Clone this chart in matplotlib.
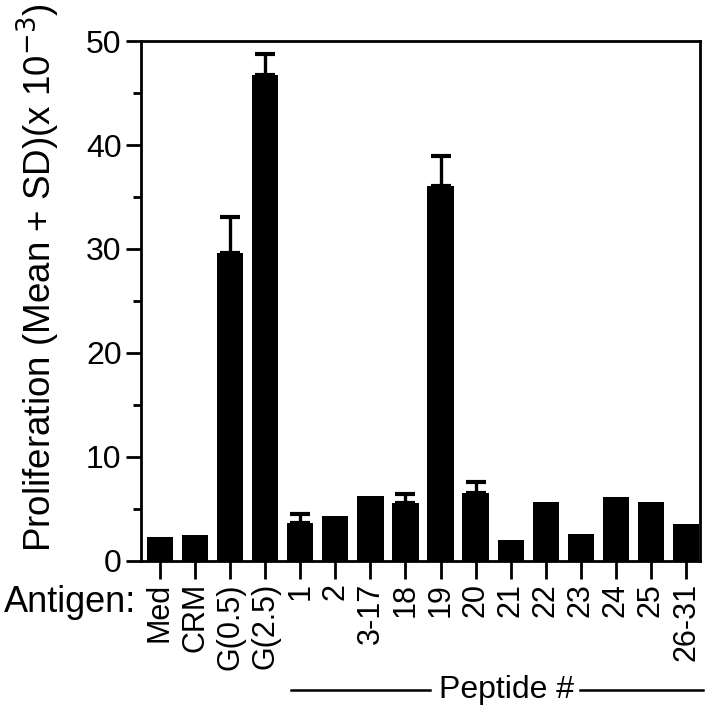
import numpy as np
import matplotlib.pyplot as plt
from matplotlib.lines import Line2D

plt.rcParams['font.family'] = ['Liberation Sans', 'DejaVu Sans']

# Antigens on the x axis
antigens = ['Med', 'CRM', 'G(0.5)', 'G(2.5)', '1', '2', '3-17', '18', '19',
            '20', '21', '22', '23', '24', '25', '26-31']
# Mean proliferation (x 10^-3)
means = [2.3, 2.5, 29.6, 46.7, 3.6, 4.35, 6.2, 5.55, 36.1,
         6.55, 2.0, 5.65, 2.55, 6.1, 5.65, 3.5]
# Upper SD (x 10^-3); 0 where no bar is drawn
sds = [0, 0, 3.5, 2.1, 0.95, 0, 0, 0.9, 2.8,
       1.0, 0, 0, 0, 0, 0, 0]

fig = plt.figure(figsize=(7.1, 7.2), dpi=100)
ax = fig.add_axes([0.1986, 0.221, 0.7874, 0.722])

x = np.arange(len(antigens))
ax.bar(x, means, width=0.75, color='black', zorder=2)

sd_idx = [i for i, s in enumerate(sds) if s > 0]
ax.errorbar(x[sd_idx], [means[i] for i in sd_idx],
            yerr=[[0] * len(sd_idx), [sds[i] for i in sd_idx]],
            fmt='none', ecolor='black', elinewidth=2.4, capsize=7,
            capthick=3, zorder=1)

ax.set_xlim(-0.54, 15.4)
ax.set_ylim(0, 50)
ax.set_yticks([0, 10, 20, 30, 40, 50])
ax.set_yticks([5, 15, 25, 35, 45], minor=True)
ax.set_xticks(x)
ax.set_xticklabels(antigens, rotation=90, fontsize=22, va='top')

for sp in ax.spines.values():
    sp.set_linewidth(2)
ax.tick_params(axis='y', which='major', length=11, width=2, labelsize=23, pad=3)
ax.tick_params(axis='y', which='minor', length=6, width=2)
ax.tick_params(axis='x', length=13, width=2, pad=3)

ax.set_ylabel('Proliferation (Mean + SD)(x 10$^{-3}$)', fontsize=26.5)
ax.yaxis.set_label_coords(-0.142, 0.545)

fig.text(0.005, 0.163, 'Antigen:', fontsize=26, ha='left', va='center')

# Peptide # bracket
fig.text(0.714, 0.042, 'Peptide #', fontsize=23, ha='center', va='center')
fig.add_artist(Line2D([0.41, 0.605], [0.042, 0.042], color='black', lw=1.8))
fig.add_artist(Line2D([0.817, 0.99], [0.042, 0.042], color='black', lw=1.8))

fig.savefig('out.png', dpi=100)
